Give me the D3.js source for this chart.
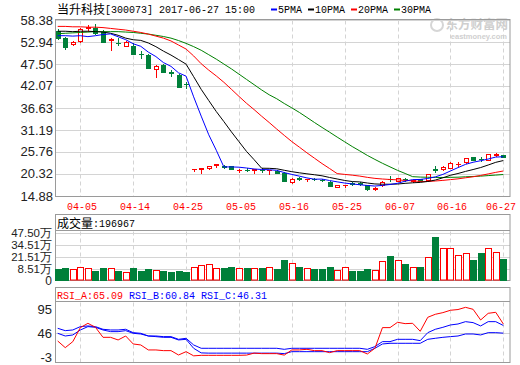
<!DOCTYPE html>
<html><head><meta charset="utf-8">
<script src="https://cdn.jsdelivr.net/npm/d3@7"></script>
<style>body{margin:0;background:#fff}svg{display:block}</style>
</head><body>
<svg id="c" width="520" height="365"></svg>
<script>
const dates = ["03-29","03-30","03-31","04-05","04-06","04-07","04-10","04-11","04-12","04-13",
"04-14","04-17","04-18","04-19","04-20","04-21","04-24","04-25","04-26","04-27",
"04-28","05-02","05-03","05-04","05-05","05-08","05-09","05-10","05-11","05-12",
"05-15","05-16","05-17","05-18","05-19","05-22","05-23","05-24","05-25","05-26",
"05-31","06-01","06-02","06-05","06-06","06-07","06-08","06-09","06-12","06-13",
"06-14","06-15","06-16","06-19","06-20","06-21","06-22","06-23","06-26","06-27"];
const openP = [55.7,54.0,52.4,53.2,56.4,56.4,55.3,53.4,52.7,52.0,52.0,49.95,49.7,46.2,47.3,45.45,44.8,42.55,21.5,21.65,21.7,22.6,22.35,22.3,21.3,21.4,21.4,21.32,21.25,21.1,20.62,18.3,19.22,19.05,19.1,18.82,18.4,17.2,17.55,18.2,18.1,17.6,16.6,17.5,19.0,18.6,19.08,18.7,19.0,18.8,21.5,21.45,21.9,22.7,23.2,24.4,24.05,23.9,25.1,24.95];
const closeP = [54.0,51.6,53.0,56.15,56.6,55.2,53.0,53.8,52.6,53.0,50.1,49.9,46.6,47.1,45.6,45.4,41.9,42.5,21.55,21.75,22.35,22.7,21.95,21.6,21.4,21.37,21.5,21.3,21.3,20.62,18.64,19.2,19.2,19.1,19.0,18.8,17.4,17.6,17.58,17.9,17.8,16.5,16.9,18.4,18.98,19.3,19.06,18.9,18.6,20.2,21.3,22.1,23.1,22.8,24.2,23.9,24.0,25.2,25.2,24.6];
const highP = [56.2,54.2,53.2,56.4,57.2,57.4,55.8,53.9,53.9,53.1,52.6,50.6,49.9,47.2,47.5,46.0,45.0,43.1,21.6,21.8,22.4,22.75,22.5,22.35,21.45,21.8,21.55,21.7,21.35,21.2,20.7,19.3,19.6,19.15,19.3,19.1,18.5,17.7,17.6,18.4,18.3,17.7,17.0,18.5,19.7,19.4,19.4,18.95,19.1,20.3,22.3,22.2,23.2,23.4,24.3,24.5,24.6,25.3,25.4,25.1];
const lowP = [53.8,51.3,52.2,53.0,56.0,55.0,52.9,51.0,52.1,51.9,50.0,48.9,46.4,44.4,45.5,44.6,41.7,41.6,21.0,20.5,21.6,22.1,21.9,21.5,20.9,21.0,20.5,20.9,20.4,20.5,18.5,18.2,18.8,18.7,18.9,18.6,17.3,17.1,17.1,17.7,17.7,16.4,16.4,17.4,18.6,18.5,18.7,18.4,18.5,18.7,20.8,21.3,21.8,22.3,23.1,23.8,23.6,23.8,24.8,24.5];
const volume = [8.9,10.0,8.5,10.7,9.6,6.8,10.0,9.6,6.8,5.3,10.0,6.8,8.9,7.5,6.8,5.7,6.8,5.7,10.7,12.8,13.9,9.6,10.0,11.0,9.6,10.0,9.6,10.0,10.7,8.9,18.1,14.9,11.0,9.6,8.9,8.9,11.0,7.5,10.7,6.4,6.8,8.9,7.5,17.1,22.8,18.1,14.2,10.7,10.7,21.7,43.4,31.0,31.0,23.5,26.3,18.5,26.0,31.0,26.7,19.7];
const ma5 = [54.5,54.5,54.4,54.5,54.27,54.5,54.79,54.95,54.24,53.52,52.5,51.88,50.44,49.34,47.86,46.92,45.32,44.5,39.39,34.62,30.01,26.17,22.06,22.07,22.0,21.8,21.56,21.43,21.37,21.22,20.67,20.21,19.79,19.35,19.03,19.06,18.7,18.38,18.08,17.86,17.66,17.48,17.34,17.5,17.72,18.02,18.53,18.93,18.97,19.21,19.61,20.22,21.06,21.9,22.7,23.22,23.6,24.02,24.5,24.58];
const ma10 = [55.6,55.6,55.5,55.6,55.6,55.5,55.4,55.1,54.6,53.9,53.5,53.34,52.7,51.79,50.69,49.71,48.6,47.47,44.37,41.24,38.47,35.75,33.28,30.73,28.31,25.9,23.87,21.75,21.72,21.61,21.24,20.89,20.61,20.36,20.13,19.87,19.46,19.09,18.72,18.45,18.36,18.09,17.86,17.79,17.79,17.84,18.01,18.14,18.24,18.47,18.82,19.38,20.0,20.44,20.96,21.42,21.91,22.54,23.2,23.64];
const ma20 = [56.8,56.8,56.7,56.7,56.6,56.6,56.5,56.3,56.1,55.9,55.6,55.3,54.9,54.4,53.9,53.2,52.2,51.2,49.5,47.57,45.99,44.55,42.99,41.26,39.5,37.8,36.24,34.61,33.05,31.43,29.86,28.32,26.95,25.55,24.22,22.89,21.67,20.42,20.22,20.03,19.8,19.49,19.24,19.08,18.96,18.86,18.74,18.62,18.48,18.46,18.59,18.74,18.93,19.12,19.38,19.63,19.96,20.34,20.72,21.06];
const ma30 = [55.0,55.1,55.2,55.3,55.4,55.5,55.5,55.5,55.5,55.4,55.3,55.1,54.9,54.6,54.3,53.9,53.3,52.6,51.8,50.9,49.8,48.7,47.5,46.3,45.0,43.7,42.4,41.1,39.9,38.92,37.74,36.66,35.53,34.3,33.04,31.83,30.65,29.44,28.27,27.1,26.02,24.91,23.92,22.96,22.08,21.21,20.45,19.66,19.56,19.51,19.47,19.46,19.49,19.53,19.63,19.71,19.79,19.92,20.05,20.19];
const rsiA = [30.3,16.7,29.0,57.6,66.4,58.2,37.8,37.8,32.4,40.5,24.2,22.2,12.0,12.0,10.6,10.6,1.7,8.5,0.0,1.0,1.0,1.0,1.0,1.0,1.0,1.5,5.5,4.5,4.5,4.5,1.5,12.0,12.0,13.3,10.6,10.6,6.5,10.6,10.6,10.6,10.6,3.8,15.4,57.6,57.6,68.5,65.7,66.4,50.1,78.7,84.8,88.2,93.0,94.5,99.0,95.0,73.2,86.8,88.9,65.1];
const rsiB = [56.2,51.4,52.8,59.6,61.0,59.6,54.2,52.8,52.8,54.2,47.3,46.0,40.5,40.5,39.2,39.2,33.7,35.8,22.2,15.4,15.4,15.4,15.4,15.4,15.4,15.4,15.4,15.4,15.4,15.4,13.3,15.4,15.4,15.4,15.4,15.4,15.4,15.4,15.4,15.4,15.4,13.3,18.8,29.0,29.0,33.7,33.7,33.7,31.0,47.3,54.2,58.2,63.0,65.0,69.8,67.8,61.0,69.8,69.8,62.0];
const rsiC = [46.0,40.5,42.6,52.8,59.6,58.2,52.8,49.4,49.4,51.4,46.0,44.6,40.5,39.2,37.8,37.8,32.4,33.7,15.4,6.0,5.5,5.5,5.5,5.5,5.5,5.5,5.5,5.5,5.5,5.5,4.5,8.5,8.5,8.5,8.5,8.5,8.5,8.5,8.5,8.5,8.5,8.5,15.4,24.2,25.6,25.6,25.6,25.6,25.6,33.7,35.8,37.8,39.2,40.5,44.6,44.6,42.6,47.3,47.3,46.3];
const priceTicks = [58.38,52.94,47.50,42.07,36.63,31.19,25.76,20.32,14.88];
const volTicks = [47.50,34.51,21.51,8.51];
const rsiTicks = [95,46,-3];
const xLabels = ["04-05","04-14","04-25","05-05","05-16","05-25","06-07","06-16","06-27"];
const maNames = ["5PMA","10PMA","20PMA","30PMA"];

const RED="#ff0000", GREEN="#00803a", BLUE="#0000ff", FRAME="#9a9a9a", GRID="#d4d4d4";
const svg = d3.select("#c");
const L = 55, R = 510;
const x = d3.scalePoint().domain(dates).range([57.7, 503.3]);
const y = d3.scaleLinear().domain([14.88, 58.38]).range([196, 20]);
const yv = d3.scaleLinear().domain([0, 47.5]).range([277.3, 232.7]);
const yr = d3.scaleLinear().domain([-3, 95]).range([357.3, 309.3]);
const cx = d => Math.round(x(d));
const MONO = "'Liberation Mono','DejaVu Sans Mono',monospace";
const CJK = "'Noto Sans CJK SC',sans-serif";
const SANS = "'Liberation Sans',Arial,sans-serif";

function mono(g, px, py, s, color, anchor) {
  return g.append("text").attr("x", px).attr("y", py).attr("fill", color)
    .attr("font-family", MONO).attr("font-size", 11.5)
    .attr("textLength", s.length * 6).attr("lengthAdjust", "spacingAndGlyphs")
    .attr("text-anchor", anchor || "start").text(s);
}

const panels = [
  {top:19.5, bot:196.5},
  {top:214.5, bot:280.5, sep:230.5},
  {top:287.5, bot:362.5, sep:301.5}
];
const gx = svg.append("g");
panels.forEach(p => {
  const t = p.sep !== undefined ? p.sep : p.top;
  xLabels.forEach(d => {
    gx.append("line").attr("x1", cx(d)+0.5).attr("x2", cx(d)+0.5)
      .attr("y1", t+1).attr("y2", p.bot).attr("stroke", GRID).attr("stroke-dasharray","4,3");
  });
});
priceTicks.forEach(v => {
  const yy = Math.round(y(v))+0.5;
  gx.append("line").attr("x1", L).attr("x2", R).attr("y1", yy).attr("y2", yy).attr("stroke", GRID);
});
volTicks.forEach(v => {
  const yy = Math.round(yv(v))+0.5;
  gx.append("line").attr("x1", L).attr("x2", R).attr("y1", yy).attr("y2", yy).attr("stroke", GRID);
});
{
  const yy = Math.round(yr(46))+0.5;
  gx.append("line").attr("x1", L).attr("x2", R).attr("y1", yy).attr("y2", yy).attr("stroke", GRID);
}

// watermark
const wm = svg.append("g").attr("fill", "#cfcfcf");
wm.append("circle").attr("cx", 437).attr("cy", 25).attr("r", 6).attr("fill","none").attr("stroke","#d6d6d6").attr("stroke-width",2);
wm.append("text").attr("x", 508).attr("y", 29).attr("text-anchor","end").attr("font-family", CJK)
  .attr("font-weight","bold").attr("font-size", 12.5).text("东方财富网");
wm.append("text").attr("x", 507).attr("y", 38.5).attr("text-anchor","end").attr("font-family", SANS)
  .attr("font-weight","bold").attr("font-size", 7.5).text("eastmoney.com");

panels.forEach(p => {
  svg.append("rect").attr("x", L+0.5).attr("y", p.top).attr("width", R-L-0.5).attr("height", p.bot-p.top)
    .attr("fill","none").attr("stroke", FRAME);
  if (p.sep !== undefined) svg.append("line").attr("x1", L).attr("x2", R).attr("y1", p.sep).attr("y2", p.sep).attr("stroke", FRAME);
});

svg.append("clipPath").attr("id","cm").append("rect").attr("x",L+1).attr("y",20).attr("width",R-L-1).attr("height",176);
svg.append("clipPath").attr("id","cr").append("rect").attr("x",L+1).attr("y",302).attr("width",R-L-1).attr("height",60);

// candles
const cg = svg.append("g").attr("clip-path","url(#cm)");
dates.forEach((d, i) => {
  const c = cx(d), o = openP[i], cl = closeP[i];
  const up = cl >= o;
  const col = up ? RED : GREEN;
  const yT = Math.round(y(Math.max(o, cl))), yB = Math.round(y(Math.min(o, cl)));
  cg.append("line").attr("x1", c+0.5).attr("x2", c+0.5)
    .attr("y1", Math.round(y(highP[i]))).attr("y2", Math.round(y(lowP[i]))+1).attr("stroke", col);
  if (yB - yT < 1) {
    cg.append("line").attr("x1", c-2).attr("x2", c+3).attr("y1", yT+0.5).attr("y2", yT+0.5).attr("stroke", col);
  } else if (up) {
    cg.append("rect").attr("x", c-1.5).attr("y", yT+0.5).attr("width", 4).attr("height", yB-yT)
      .attr("fill","#fff").attr("stroke", col);
  } else {
    cg.append("rect").attr("x", c-2).attr("y", yT).attr("width", 5).attr("height", yB-yT+1).attr("fill", col);
  }
});

const line = arr => d3.line().x((d,i)=>x(dates[i])).y(d=>y(d))(arr);
[[ma30,"#008000"],[ma20,RED],[ma10,"#000000"],[ma5,BLUE]].forEach(([a,c]) => {
  cg.append("path").attr("d", line(a)).attr("fill","none").attr("stroke", c).attr("stroke-width",1);
});

// volume bars
const vg = svg.append("g");
dates.forEach((d, i) => {
  const c = cx(d), up = closeP[i] >= openP[i];
  const top = Math.round(yv(volume[i]));
  if (up) vg.append("rect").attr("x", c-2.5).attr("y", top+0.5).attr("width", 6).attr("height", 280-top-0.5)
    .attr("fill","#fff").attr("stroke", RED);
  else vg.append("rect").attr("x", c-3).attr("y", top).attr("width", 7).attr("height", 281-top).attr("fill", GREEN);
});

// RSI lines
const rg = svg.append("g").attr("clip-path","url(#cr)");
const rline = arr => d3.line().x((d,i)=>x(dates[i])).y(d=>yr(d))(arr);
[[rsiC,BLUE],[rsiB,BLUE],[rsiA,RED]].forEach(([a,c]) => {
  rg.append("path").attr("d", rline(a)).attr("fill","none").attr("stroke", c).attr("stroke-width",1);
});

// axis labels
const ag = svg.append("g").attr("font-family", SANS).attr("font-size", 13).attr("fill", "#222");
priceTicks.forEach(v => {
  ag.append("text").attr("x", 53).attr("y", y(v)+4.5).attr("text-anchor","end").text(v.toFixed(2));
});
volTicks.forEach(v => {
  ag.append("text").attr("x", 52).attr("y", yv(v)+4).attr("text-anchor","end").attr("font-size",11.5).text(v.toFixed(2)+"万");
});
ag.append("text").attr("x", 52).attr("y", yv(0)+8).attr("text-anchor","end").attr("font-size",12).text("0");
rsiTicks.forEach(v => {
  ag.append("text").attr("x", 52).attr("y", yr(v)+4.5).attr("text-anchor","end").text(String(v));
});
xLabels.forEach((d, i) => {
  if (i === xLabels.length - 1) mono(svg, 516, 210, d, RED, "end");
  else mono(svg, cx(d)+2, 210, d, RED, "middle");
});

// title
svg.append("text").attr("x", 57).attr("y", 13.5).attr("font-family", CJK).attr("font-size", 12).attr("fill","#000").text("当升科技");
mono(svg, 105, 13, "[300073] 2017-06-27 15:00", "#000");
const maCols = [BLUE, "#000000", RED, "#008000"];
let lx = 271;
maNames.forEach((n, i) => {
  svg.append("line").attr("x1", lx).attr("x2", lx+6).attr("y1", 9.5).attr("y2", 9.5).attr("stroke", maCols[i]).attr("stroke-width", 2);
  mono(svg, lx+7, 13, n, "#000");
  lx += 7 + n.length*6 + 6;
});

svg.append("text").attr("x", 57).attr("y", 227.5).attr("font-family", CJK).attr("font-size", 12).attr("fill","#000").text("成交量");
mono(svg, 93, 227, ":196967", "#000");

mono(svg, 57, 298.5, "RSI_A:65.09", RED);
mono(svg, 129, 298.5, "RSI_B:60.84", BLUE);
mono(svg, 201, 298.5, "RSI_C:46.31", BLUE);
</script>
</body></html>
